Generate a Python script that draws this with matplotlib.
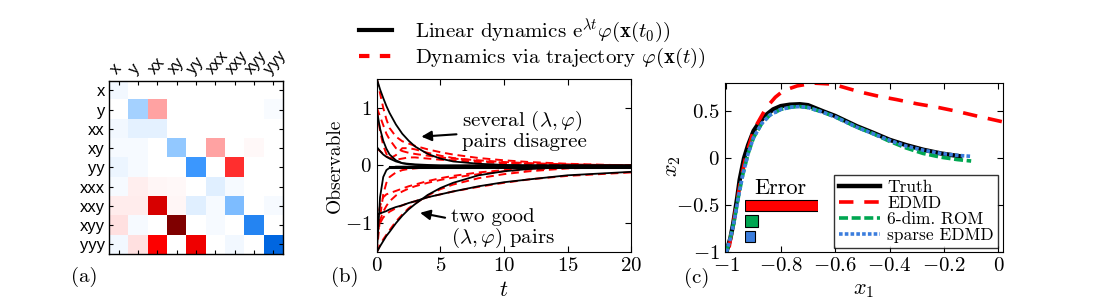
import numpy as np
import matplotlib
import matplotlib.pyplot as plt
from matplotlib.colors import LinearSegmentedColormap
from matplotlib.lines import Line2D

plt.rcParams['font.family'] = ['cmr10', 'DejaVu Serif']
plt.rcParams['mathtext.fontset'] = 'cm'
plt.rcParams['axes.formatter.use_mathtext'] = True
plt.rcParams['axes.unicode_minus'] = True

# ---------------- data ----------------
# (a) coefficient matrix
terms = ["x", "y", "xx", "xy", "yy", "xxx", "xxy", "xyy", "yyy"]
coef = np.array([
    [-0.05, 0, 0, 0, 0, 0, 0, 0, 0],
    [0, -0.35, 0.35, 0, 0, 0, 0, 0, -0.02],
    [-0.05, -0.10, -0.10, 0, 0, 0, 0, 0, 0],
    [-0.03, -0.03, 0, -0.42, 0, 0.35, 0, 0.02, 0],
    [-0.07, -0.03, 0, 0, -0.75, 0, 0.75, 0, 0],
    [-0.03, 0.06, 0.03, 0.02, 0, -0.12, -0.03, 0, 0],
    [0.07, 0.07, 0.86, 0.03, -0.12, -0.03, -0.50, 0, -0.03],
    [0.12, -0.03, 0, 1.0, 0, -0.03, 0, -0.85, 0],
    [-0.05, 0.12, 0.80, 0, 0.82, 0, -0.05, 0, -1.0],
])

# (b) observables vs time
t = [0, 0.25, 0.5, 0.75, 1, 1.5, 2, 2.5, 3, 4, 5, 6, 8, 10, 12, 15, 20]
lin1 = [1.5, 1.32, 1.17, 1.03, 0.91, 0.71, 0.55, 0.43, 0.33, 0.20, 0.12, 0.07, 0.03, 0.01, 0.0, 0.0, 0.0]
lin2 = [0.95, 0.64, 0.43, 0.29, 0.19, 0.09, 0.04, 0.02, 0.01, 0.0, 0.0, 0.0, 0.0, 0.0, 0.0, 0.0, 0.0]
lin3 = [0.32, 0.25, 0.19, 0.15, 0.12, 0.07, 0.04, 0.03, 0.02, 0.01, 0.0, 0.0, 0.0, 0.0, 0.0, 0.0, 0.0]
lin4 = [-1.5, -0.55, -0.20, -0.08, -0.04, -0.02, -0.02, -0.02, -0.02, -0.02, -0.02, -0.02, -0.02, -0.02, -0.02, -0.02, -0.02]
lin5 = [-0.85, -0.83, -0.81, -0.79, -0.76, -0.72, -0.69, -0.65, -0.62, -0.55, -0.50, -0.45, -0.36, -0.29, -0.24, -0.17, -0.11]
lin6 = [-1.5, -1.40, -1.31, -1.22, -1.15, -1.00, -0.87, -0.76, -0.67, -0.51, -0.39, -0.30, -0.17, -0.10, -0.06, -0.03, -0.01]

traj1 = [1.5, 1.25, 1.0, 0.8, 0.65, 0.5, 0.42, 0.38, 0.34, 0.28, 0.23, 0.19, 0.13, 0.09, 0.06, 0.03, 0.0]
traj2 = [1.0, 0.85, 0.7, 0.55, 0.45, 0.3, 0.25, 0.22, 0.2, 0.17, 0.14, 0.12, 0.09, 0.06, 0.04, 0.02, 0.0]
traj3 = [0.3, 0.25, 0.2, 0.16, 0.13, 0.1, 0.12, 0.14, 0.14, 0.12, 0.1, 0.09, 0.06, 0.04, 0.03, 0.01, 0.0]
traj4 = [0.95, 0.6, 0.35, 0.2, 0.12, 0.18, 0.3, 0.3, 0.28, 0.22, 0.17, 0.13, 0.08, 0.05, 0.03, 0.01, 0.0]
traj5 = [-1.5, -0.9, -0.5, -0.3, -0.2, -0.12, -0.08, -0.06, -0.05, -0.03, -0.02, -0.01, 0.0, 0.0, 0.0, 0.0, 0.0]
traj6 = [-1.2, -0.95, -0.8, -0.7, -0.62, -0.52, -0.45, -0.4, -0.36, -0.3, -0.25, -0.21, -0.15, -0.1, -0.07, -0.04, -0.01]
traj7 = [-1.0, -0.7, -0.55, -0.5, -0.48, -0.44, -0.4, -0.36, -0.33, -0.27, -0.22, -0.18, -0.12, -0.08, -0.05, -0.03, -0.01]
traj8 = [-1.5, -1.38, -1.28, -1.2, -1.12, -0.97, -0.85, -0.74, -0.66, -0.52, -0.41, -0.33, -0.22, -0.15, -0.1, -0.05, -0.02]
traj9 = [-1.2, -1.0, -0.9, -0.85, -0.8, -0.74, -0.69, -0.65, -0.62, -0.55, -0.5, -0.45, -0.37, -0.3, -0.24, -0.18, -0.12]

# (c) phase portrait
truth_x1 = [-1.0, -0.985, -0.975, -0.96, -0.951, -0.935, -0.92, -0.9, -0.877, -0.85, -0.828, -0.80, -0.767,
            -0.73, -0.70, -0.645, -0.60, -0.52, -0.46, -0.40, -0.34, -0.276, -0.21, -0.14]
truth_x2 = [-1.0, -0.85, -0.70, -0.42, -0.23, 0.0, 0.14, 0.29, 0.39, 0.47, 0.52, 0.555, 0.57,
            0.575, 0.565, 0.50, 0.45, 0.34, 0.27, 0.196, 0.14, 0.09, 0.05, 0.02]
edmd_x1 = [-0.99, -0.97, -0.95, -0.93, -0.90, -0.853, -0.82, -0.79, -0.74, -0.68, -0.61, -0.55, -0.5,
           -0.44, -0.375, -0.3, -0.22, -0.153, -0.08, 0.02]
edmd_x2 = [-0.95, -0.62, -0.28, 0.0, 0.30, 0.54, 0.65, 0.72, 0.77, 0.80, 0.79, 0.74, 0.70,
           0.66, 0.625, 0.58, 0.54, 0.50, 0.45, 0.385]
rom_x1 = [-1.0, -0.985, -0.97, -0.955, -0.94, -0.92, -0.9, -0.87, -0.84, -0.80, -0.76, -0.73, -0.70,
          -0.645, -0.6, -0.52, -0.46, -0.4, -0.34, -0.276, -0.21, -0.15, -0.1]
rom_x2 = [-1.0, -0.85, -0.65, -0.40, -0.18, 0.05, 0.22, 0.37, 0.46, 0.52, 0.545, 0.55, 0.54,
          0.49, 0.44, 0.33, 0.26, 0.18, 0.11, 0.05, 0.01, -0.015, -0.03]
sparse_x1 = rom_x1
sparse_x2 = [-1.0, -0.85, -0.65, -0.40, -0.18, 0.05, 0.22, 0.37, 0.46, 0.52, 0.545, 0.55, 0.54,
             0.49, 0.44, 0.33, 0.26, 0.19, 0.13, 0.085, 0.05, 0.03, 0.02]
err_vals = [1.0, 0.18, 0.14]
err_cols = ["#ff0000", "#00a651", "#3b7ddd"]

# ---------------- figure ----------------
fig = plt.figure(figsize=(11.15, 2.99), dpi=100)

# (a)
cmap = LinearSegmentedColormap.from_list("rwb", [
    (0.0, (0.0, 0.4, 0.88)),
    (0.125, (0.24, 0.6, 1.0)),
    (0.3, (0.6, 0.8, 1.0)),
    (0.5, (1.0, 1.0, 1.0)),
    (0.68, (1.0, 0.63, 0.63)),
    (0.87, (1.0, 0.25, 0.25)),
    (0.9, (1.0, 0.0, 0.0)),
    (0.93, (0.86, 0.0, 0.0)),
    (1.0, (0.5, 0.0, 0.0)),
], N=255)
axa = fig.add_axes([0.0978, 0.1505, 0.156, 0.579])
axa.imshow(coef, cmap=cmap, vmin=-1, vmax=1, aspect='auto', interpolation='nearest')
axa.set_xticks(range(9))
axa.set_yticks(range(9))
axa.set_xticklabels(terms, rotation=50, ha='left', va='bottom', family='Liberation Sans', fontsize=12)
axa.set_yticklabels(terms, family='Liberation Sans', fontsize=12)
axa.tick_params(direction='in', top=True, right=True, bottom=True, left=True,
                labeltop=True, labelbottom=False, length=3, pad=3)
for lab in axa.get_xticklabels():
    lab.set_rotation_mode('anchor')
for s in axa.spines.values():
    s.set_linewidth(1.0)
fig.text(0.076, 0.075, "(a)", fontsize=15, ha='center', va='center')

# (b)
axb = fig.add_axes([0.338, 0.157, 0.228, 0.579])
for y in [traj1, traj2, traj3, traj4, traj5, traj6, traj7, traj8, traj9]:
    axb.plot(t, y, color='red', lw=1.4, dashes=(4, 2.5))
for y in [lin1, lin2, lin3, lin4, lin5, lin6]:
    axb.plot(t, y, color='black', lw=1.3)
axb.plot([1, 20], [-0.02, -0.02], color='black', lw=2.2)
axb.set_xlim(0, 20)
axb.set_ylim(-1.5, 1.5)
axb.set_xticks([0, 5, 10, 15, 20])
axb.set_yticks([-1, 0, 1])
axb.tick_params(direction='in', top=True, right=True, labelsize=15, length=4)
axb.set_xlabel("$t$", fontsize=16, labelpad=4)
axb.set_ylabel("Observable", fontsize=14, labelpad=1)
axb.annotate("several $(\\lambda,\\varphi)$\npairs disagree", xy=(3.5, 0.5), xytext=(6.7, 0.62),
             fontsize=15, va='center', ha='left', linespacing=1.0,
             arrowprops=dict(arrowstyle='-|>', color='black', lw=1.5, shrinkA=2, shrinkB=0))
axb.annotate("two good\n$(\\lambda,\\varphi)$ pairs", xy=(3.4, -0.82), xytext=(5.8, -1.1),
             fontsize=15, va='center', ha='left', linespacing=1.0,
             arrowprops=dict(arrowstyle='-|>', color='black', lw=1.5, shrinkA=2, shrinkB=0))
fig.text(0.309, 0.075, "(b)", fontsize=15, ha='center', va='center')

# legend on top
handles = [Line2D([], [], color='black', lw=3),
           Line2D([], [], color='red', lw=3, dashes=(2.5, 2.5))]
fig.legend(handles, ["Linear dynamics $\\mathrm{e}^{\\lambda t}\\varphi(\\mathbf{x}(t_0))$",
                     "Dynamics via trajectory $\\varphi(\\mathbf{x}(t))$"],
           loc='upper left', bbox_to_anchor=(0.305, 1.005), frameon=False, fontsize=15,
           handlelength=1.6, handletextpad=1.1, labelspacing=0.05)

# (c)
axc = fig.add_axes([0.650, 0.157, 0.2493, 0.565])
axc.plot(truth_x1, truth_x2, color='black', lw=3.2, label='Truth')
axc.plot(edmd_x1, edmd_x2, color='red', lw=2.6, dashes=(4, 3), label='EDMD')
axc.plot(rom_x1, rom_x2, color='#00a651', lw=2.6, dashes=(2.5, 1), label='6-dim. ROM')
axc.plot(sparse_x1, sparse_x2, color='#3b7ddd', lw=2.6, dashes=(1, 0.6), label='sparse EDMD')
axc.set_xlim(-1.006, 0.016)
axc.set_ylim(-1, 0.8)
axc.set_xticks([-1, -0.8, -0.6, -0.4, -0.2, 0])
axc.set_xticklabels(["$-1$", "$-0.8$", "$-0.6$", "$-0.4$", "$-0.2$", "$0$"])
axc.set_yticks([-1, -0.5, 0, 0.5])
axc.set_yticklabels(["$-1$", "$-0.5$", "$0$", "$0.5$"])
axc.tick_params(direction='in', top=True, right=True, labelsize=15, length=4)
axc.set_xlabel("$x_1$", fontsize=16, labelpad=4)
axc.set_ylabel("$x_2$", fontsize=16)
axc.yaxis.set_label_coords(-0.15, 0.51)
leg = axc.legend(loc='lower right', fontsize=12.5, frameon=True, fancybox=False, handlelength=2.4,
                 handletextpad=0.4, labelspacing=0.05, borderpad=0.25, borderaxespad=0.25)
leg.get_frame().set_edgecolor('black')
leg.get_frame().set_linewidth(1.0)
fig.text(0.625, 0.07, "(c)", fontsize=15, ha='center', va='center')

# error bars inset
axe = fig.add_axes([0.668, 0.184, 0.066, 0.154])
axe.barh([0, 1, 2], err_vals, height=0.75, color=err_cols, edgecolor='black', lw=0.8)
axe.set_xlim(0, 1.0)
axe.set_ylim(2.5, -0.5)
axe.axis('off')
axe.set_title("Error", fontsize=16, pad=1, loc='left', x=0.13)

fig.savefig("out.png", dpi=100)
